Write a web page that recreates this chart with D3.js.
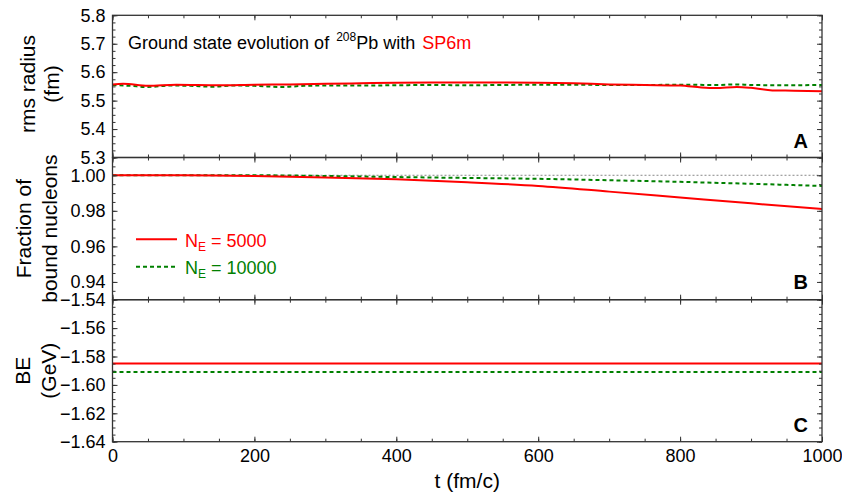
<!DOCTYPE html>
<html><head><meta charset="utf-8">
<script src="https://cdn.jsdelivr.net/npm/d3@7"></script>
<style>
body{margin:0;background:#fff}
text{font-family:"Liberation Sans",Arial,Helvetica,sans-serif;fill:#000}
</style>
</head><body>
<svg id="chart" width="842" height="498"></svg>
<script>
// ---------- data ----------
const xTickValues = [0, 200, 400, 600, 800, 1000];

// Panel A: rms radius (fm)
const radiusTicks = [5.3, 5.4, 5.5, 5.6, 5.7, 5.8];
const tRadius5000 = [0, 15, 50, 90, 150, 200, 250, 300, 350, 400, 450, 500, 550, 600, 650, 700, 750, 800, 830, 850, 880, 900, 930, 960, 1000];
const radius5000  = [5.557, 5.559, 5.552, 5.556, 5.554, 5.556, 5.557, 5.559, 5.561, 5.563, 5.564, 5.564, 5.564, 5.563, 5.561, 5.557, 5.555, 5.553, 5.546, 5.544, 5.548, 5.545, 5.536, 5.535, 5.533];
const tRadius10000 = [0, 25, 50, 80, 110, 140, 170, 200, 240, 270, 300, 350, 400, 450, 500, 550, 600, 650, 700, 750, 800, 850, 880, 900, 950, 1000];
const radius10000  = [5.555, 5.552, 5.548, 5.553, 5.552, 5.549, 5.553, 5.552, 5.548, 5.552, 5.553, 5.553, 5.554, 5.555, 5.554, 5.555, 5.556, 5.556, 5.555, 5.555, 5.556, 5.555, 5.557, 5.555, 5.554, 5.555];

// Panel B: fraction of bound nucleons
const fractionTicks = [0.94, 0.96, 0.98, 1.00];
const tFraction = [0, 100, 200, 300, 400, 500, 600, 700, 800, 900, 1000];
const fraction5000  = [1.0000, 1.0000, 0.9996, 0.9988, 0.9977, 0.9961, 0.9940, 0.9908, 0.9875, 0.9842, 0.9810];
const fraction10000 = [1.0000, 1.0000, 1.0000, 0.9996, 0.9990, 0.9985, 0.9980, 0.9972, 0.9963, 0.9952, 0.9940];
const fractionRef = [1.0, 1.0];
const tFractionRef = [0, 1000];

// Panel C: binding energy (GeV)
const beTicks = [-1.64, -1.62, -1.60, -1.58, -1.56, -1.54];
const tBE = [0, 200, 400, 600, 800, 1000];
const be5000  = [-1.585, -1.585, -1.585, -1.585, -1.585, -1.585];
const be10000 = [-1.591, -1.591, -1.591, -1.591, -1.591, -1.591];

// ---------- layout ----------
const svg = d3.select("#chart");
const X0 = 112.5, X1 = 822;
const x = d3.scaleLinear().domain([0, 1000]).range([X0, X1]);
const RED = "#ff0000", GREEN = "#008000", AX = "#333";

const panels = [
  {top: 15.3, bottom: 157.5, domain: [5.3, 5.8], ticks: radiusTicks, minorStep: 0.025, fmt: d3.format(".1f"),
   series: [
     {t: tRadius10000, v: radius10000, color: GREEN, dash: "4,3"},
     {t: tRadius5000, v: radius5000, color: RED, dash: null}],
   letter: "A", letterY: 148},
  {top: 157.5, bottom: 299.7, domain: [0.93, 1.01], ticks: fractionTicks, minorStep: 0.005, fmt: d3.format(".2f"),
   series: [
     {t: tFractionRef, v: fractionRef, color: "#888", dash: "2,2", width: 1},
     {t: tFraction, v: fraction10000, color: GREEN, dash: "4,3"},
     {t: tFraction, v: fraction5000, color: RED, dash: null}],
   letter: "B", letterY: 289},
  {top: 299.7, bottom: 441.7, domain: [-1.64, -1.54], ticks: beTicks, minorStep: 0.005, fmt: d3.format(".2f"),
   series: [
     {t: tBE, v: be5000, color: RED, dash: null},
     {t: tBE, v: be10000, color: GREEN, dash: "4,3"}],
   letter: "C", letterY: 432}
];

const xMinor = d3.range(0, 1001, 50);

panels.forEach((p, i) => {
  const y = d3.scaleLinear().domain(p.domain).range([p.bottom, p.top]);
  const g = svg.append("g");
  const minor = d3.range(p.domain[0], p.domain[1] + 1e-9, p.minorStep).map(v => +v.toFixed(4));

  const line = d3.line().x(d => x(d[0])).y(d => y(d[1])).curve(d3.curveMonotoneX);
  p.series.forEach(s => {
    g.append("path")
      .datum(s.t.map((t, k) => [t, s.v[k]]))
      .attr("d", line)
      .attr("fill", "none")
      .attr("stroke", s.color)
      .attr("stroke-width", s.width || 2)
      .attr("stroke-dasharray", s.dash);
  });

  const addAxis = (axisGen, tx, ty, scale, vals, size, labels, fmt, pad) => {
    const a = axisGen(scale).tickValues(vals).tickSize(-size).tickPadding(pad || 7)
      .tickFormat(labels ? fmt : "");
    const ag = g.append("g").attr("transform", `translate(${tx},${ty})`).call(a);
    ag.select(".domain").remove();
    ag.selectAll("line").attr("stroke", AX).attr("stroke-width", 1);
    ag.selectAll("text").style("font-size", "18px").attr("fill", "#000");
    if (!labels) ag.selectAll("text").remove();
    return ag;
  };
  addAxis(d3.axisLeft, X0, 0, y, p.ticks, 5, true, p.fmt, 7);
  addAxis(d3.axisLeft, X0, 0, y, minor, 3, false);
  addAxis(d3.axisRight, X1, 0, y, p.ticks, 5, false);
  addAxis(d3.axisRight, X1, 0, y, minor, 3, false);
  addAxis(d3.axisBottom, 0, p.bottom, x, xTickValues, 5, i === 2, d3.format("d"), 7.5);
  addAxis(d3.axisBottom, 0, p.bottom, x, xMinor, 3, false);
  addAxis(d3.axisTop, 0, p.top, x, xTickValues, 5, false);
  addAxis(d3.axisTop, 0, p.top, x, xMinor, 3, false);

  g.append("rect").attr("x", X0).attr("y", p.top).attr("width", X1 - X0).attr("height", p.bottom - p.top)
    .attr("fill", "none").attr("stroke", AX).attr("stroke-width", 1.3);

  g.append("text").attr("x", 808).attr("y", p.letterY).attr("text-anchor", "end")
    .style("font-size", "20px").style("font-weight", "bold").text(p.letter);
});

// axis titles
const ytitle = (lines, cy) => {
  lines.forEach(([txt, bx]) => {
    svg.append("text").attr("transform", `translate(${bx},${cy}) rotate(-90)`)
      .attr("text-anchor", "middle").style("font-size", "21px").text(txt);
  });
};
ytitle([["rms radius", 35], ["(fm)", 59]], 84);
ytitle([["Fraction of", 31], ["bound nucleons", 57]], 228.6);
ytitle([["BE", 30], ["(GeV)", 56]], 370.7);

svg.append("text").attr("x", (X0 + X1) / 2).attr("y", 488).attr("text-anchor", "middle")
  .style("font-size", "21px").text("t (fm/c)");

// title
const title = svg.append("text").attr("x", 128).attr("y", 49).style("font-size", "18px");
title.append("tspan").text("Ground state evolution of");
title.append("tspan").attr("dx", 7).attr("dy", -8).style("font-size", "12px").text("208");
title.append("tspan").attr("dy", 8).text("Pb with");
title.append("tspan").attr("dx", 7).style("fill", RED).text("SP6m");

// legend
const legend = [
  {label: " = 5000", color: RED, dash: null, y: 239.3},
  {label: " = 10000", color: GREEN, dash: "4,3", y: 266.7}
];
legend.forEach(l => {
  svg.append("line").attr("x1", 136).attr("x2", 177).attr("y1", l.y).attr("y2", l.y)
    .attr("stroke", l.color).attr("stroke-width", 2).attr("stroke-dasharray", l.dash);
  const t = svg.append("text").attr("x", 185).attr("y", l.y + 7.5).style("font-size", "18px").style("fill", l.color);
  t.append("tspan").text("N");
  t.append("tspan").attr("dy", 4).style("font-size", "12px").text("E");
  t.append("tspan").attr("dy", -4).text(l.label);
});
</script>
</body></html>
